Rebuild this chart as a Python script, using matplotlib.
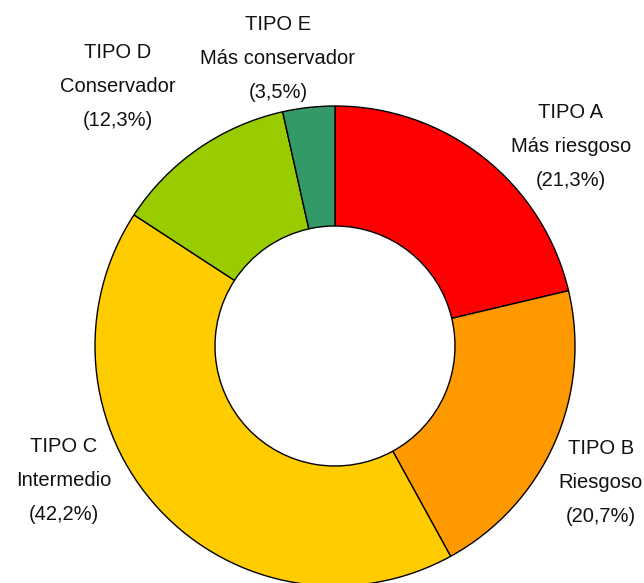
import matplotlib.pyplot as plt

# datos del grafico (porcentaje por tipo de perfil)
tipos = ["TIPO A", "TIPO B", "TIPO C", "TIPO D", "TIPO E"]
perfiles = ["Más riesgoso", "Riesgoso", "Intermedio", "Conservador", "Más conservador"]
porcentajes = [21.3, 20.7, 42.2, 12.3, 3.5]
colores = ["#FF0000", "#FF9900", "#FFCC00", "#99CC00", "#339966"]

# posiciones de las etiquetas (pixeles de la figura)
pos_etiquetas = [(571, 147), (601, 483), (64, 481), (118, 86), (278, 58)]

W, H = 644, 583
fig = plt.figure(figsize=(W / 100, H / 100), dpi=100)
ax = fig.add_axes([0, 0, 1, 1])

ax.pie(porcentajes, colors=colores, startangle=90, counterclock=False,
       center=(335, H - 346), radius=240,
       wedgeprops=dict(width=120, edgecolor="black", linewidth=1.0))

ax.set_xlim(0, W)
ax.set_ylim(0, H)
ax.set_aspect("equal")
ax.axis("off")

for t, p, v, (x, y) in zip(tipos, perfiles, porcentajes, pos_etiquetas):
    txt = t + "\n" + p + "\n(" + ("%.1f" % v).replace(".", ",") + "%)"
    ax.text(x, H - y, txt, ha="center", va="center", multialignment="center",
            fontsize=14.5, family="Liberation Sans", linespacing=2.0,
            color="#111111")

fig.savefig("out.png", dpi=100)
